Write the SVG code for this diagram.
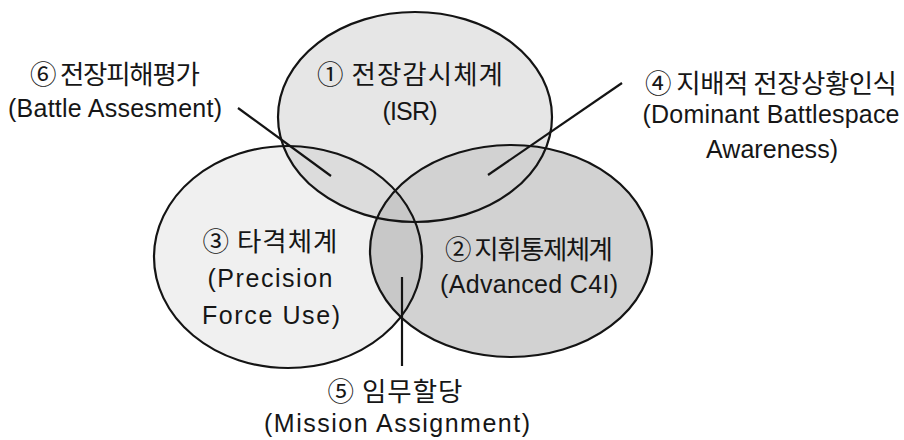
<svg xmlns="http://www.w3.org/2000/svg" width="904" height="440" viewBox="0 0 904 440">
<style>
  .outline { fill: none; stroke: #141414; stroke-width: 2.2; }
  .conn { stroke: #141414; stroke-width: 2.2; fill: none; }
  text { font-family: "Liberation Sans", "Noto Sans CJK KR", sans-serif; font-size: 25px; fill: #161616; text-anchor: middle; }
  text.ko { font-family: "Noto Sans CJK KR", sans-serif; font-size: 26.5px; }
</style>
<defs>
  <ellipse id="e-isr" cx="415" cy="117" rx="137" ry="105"/>
  <ellipse id="e-strike" cx="288" cy="257" rx="134" ry="111"/>
  <ellipse id="e-c4i" cx="511" cy="251" rx="141" ry="106"/>
  <clipPath id="clip-isr"><use href="#e-isr"/></clipPath>
  <clipPath id="clip-strike"><use href="#e-strike"/></clipPath>
</defs>
<rect width="904" height="440" fill="#ffffff"/>
<g id="shading">
  <use href="#e-isr" fill="#e6e6e6"/>
  <use href="#e-strike" fill="#f0f0f0"/>
  <use href="#e-strike" fill="#dcdcdc" clip-path="url(#clip-isr)"/>
  <use href="#e-c4i" fill="#d2d2d2"/>
  <use href="#e-c4i" fill="#c8c8c8" clip-path="url(#clip-strike)"/>
</g>
<g id="connectors">
  <line class="conn" x1="238" y1="108" x2="331" y2="176"/>
  <line class="conn" x1="622" y1="83" x2="488" y2="175"/>
  <line class="conn" x1="402" y1="277" x2="402" y2="366"/>
</g>
<g id="node-isr">
  <use href="#e-isr" class="outline"/>
  <text class="ko" x="410" y="84" textLength="186" lengthAdjust="spacing">① 전장감시체계</text>
  <text x="410" y="120" textLength="55" lengthAdjust="spacing">(ISR)</text>
</g>
<g id="node-strike">
  <use href="#e-strike" class="outline"/>
  <text class="ko" x="270" y="251" textLength="135" lengthAdjust="spacing">③ 타격체계</text>
  <text x="270" y="287" textLength="125" lengthAdjust="spacing">(Precision</text>
  <text x="271" y="324" textLength="138" lengthAdjust="spacing">Force Use)</text>
</g>
<g id="node-c4i">
  <use href="#e-c4i" class="outline"/>
  <text class="ko" x="529" y="259" textLength="168" lengthAdjust="spacing">② 지휘통제체계</text>
  <text x="529" y="293" textLength="178" lengthAdjust="spacing">(Advanced C4I)</text>
</g>
<g id="node-bda">
  <text class="ko" x="115" y="84" textLength="170" lengthAdjust="spacing">⑥ 전장피해평가</text>
  <text x="115" y="117" textLength="214" lengthAdjust="spacing">(Battle Assesment)</text>
</g>
<g id="node-dba">
  <text class="ko" x="771" y="93" textLength="252" lengthAdjust="spacing">④ 지배적 전장상황인식</text>
  <text x="771" y="123" textLength="257" lengthAdjust="spacing">(Dominant Battlespace</text>
  <text x="772" y="158" textLength="132" lengthAdjust="spacing">Awareness)</text>
</g>
<g id="node-mission">
  <text class="ko" x="395" y="401" textLength="135" lengthAdjust="spacing">⑤ 임무할당</text>
  <text x="397" y="432" textLength="266" lengthAdjust="spacing">(Mission Assignment)</text>
</g>
</svg>
